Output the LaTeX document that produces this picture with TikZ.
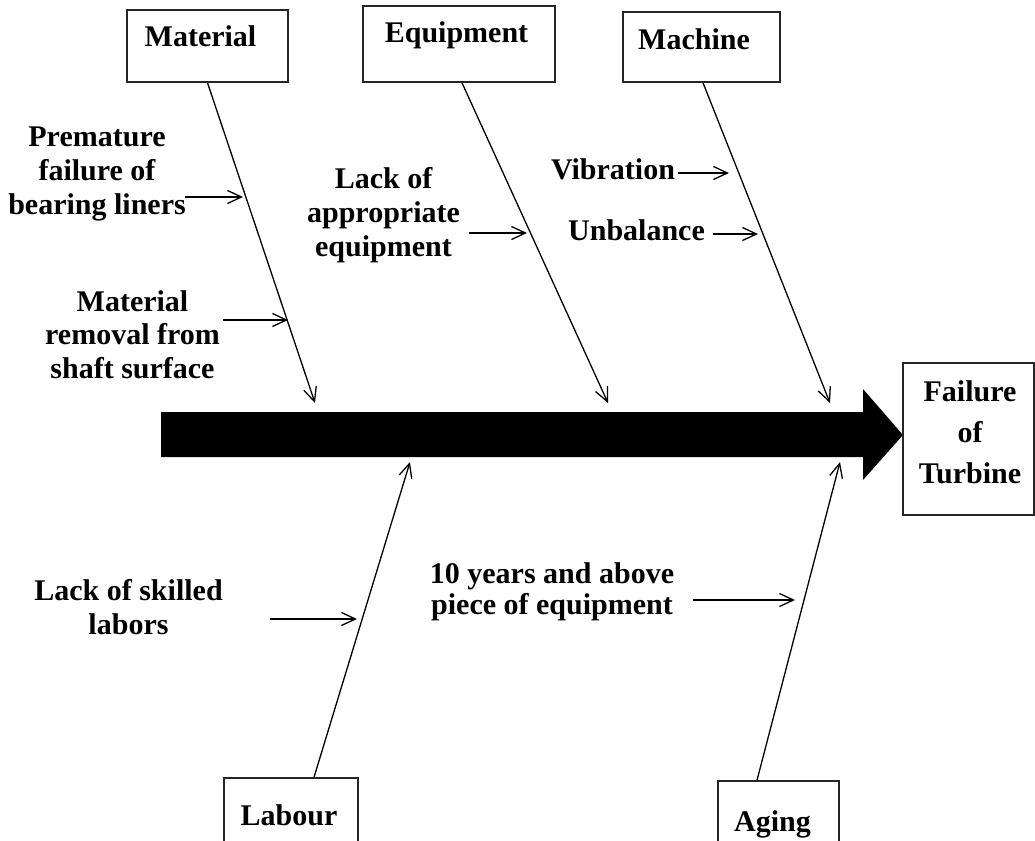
\documentclass[tikz,border=0pt]{standalone}
\usepackage{fontspec}
\setmainfont{Liberation Serif}
\usetikzlibrary{arrows.meta}
\begin{document}
\begin{tikzpicture}[x=1pt,y=-1pt,
  txt/.style={font=\fontsize{30}{34}\selectfont\bfseries, inner sep=0pt, align=center},
  boxnode/.style={draw=black!85, line width=1.6pt, inner sep=0pt, fill=white},
  bone/.style={line width=1.3pt, -{Straight Barb[length=14pt,width=13pt]}},
  ]
\useasboundingbox (0,0) rectangle (1035,840);
\clip (0,0) rectangle (1035,840);

% spine
\fill[black] (161,412) -- (863,412) -- (863,389) -- (903,435) -- (863,480) -- (863,457) -- (161,457) -- cycle;

% category boxes
\node[boxnode, minimum width=161pt, minimum height=72pt] (mat) at (207.5,46) {};
\node[boxnode, minimum width=192pt, minimum height=76pt] (eqp) at (459,44) {};
\node[boxnode, minimum width=157pt, minimum height=70pt] (mac) at (701.5,47) {};
\node[boxnode, minimum width=134pt, minimum height=80pt] (lab) at (291,818) {};
\node[boxnode, minimum width=121pt, minimum height=80pt] (age) at (778.5,821) {};
\node[boxnode, minimum width=131pt, minimum height=152pt] (fail) at (968.5,439) {};

\node[txt, anchor=base] (matT) at (200.5,47) {Material};
\node[txt, anchor=base] (eqpT) at (456.5,43) {Equipment};
\node[txt, anchor=base] (macT) at (694,50) {Machine};
\node[txt, anchor=base] (labT) at (289,825) {Labour};
\node[txt, anchor=base] (ageT) at (772.5,831) {Aging};
\node[txt, anchor=north, font=\fontsize{30}{41}\selectfont\bfseries] (failT) at (970,380) {Failure\\of\\Turbine};

% branch ends on the spine
\coordinate (matE) at (315,403);
\coordinate (eqpE) at (608,403);
\coordinate (macE) at (830,403);
\coordinate (labE) at (410,462);
\coordinate (ageE) at (840,462);

\draw[bone] (mat.south) -- (matE);
\draw[bone] ([xshift=3pt]eqp.south) -- (eqpE);
\draw[bone] ([xshift=1.5pt]mac.south) -- (macE);
\draw[bone] ([xshift=23pt]lab.north) -- (labE);
\draw[bone] ([xshift=-21.5pt]age.north) -- (ageE);

% causes
\node[txt, anchor=north] (c1) at (97,127) {Premature\\failure of\\bearing liners};
\node[txt, anchor=north, font=\fontsize{30}{33.5}\selectfont\bfseries] (c2) at (132.5,290) {Material\\removal from\\shaft surface};
\node[txt, anchor=north] (c3) at (383.5,167) {Lack of\\appropriate\\equipment};
\node[txt, anchor=base] (c4) at (613,179) {Vibration};
\node[txt, anchor=base] (c5) at (636.5,240) {Unbalance};
\node[txt, anchor=north] (c6) at (128.5,579) {Lack of skilled\\labors};
\node[txt, anchor=north, font=\fontsize{30}{31}\selectfont\bfseries] (c7) at (552,562) {10 years and above\\piece of equipment};

\coordinate (a1s) at (185,197); \coordinate (a1e) at (243,197);
\coordinate (a2s) at (223,320); \coordinate (a2e) at (288,320);
\coordinate (a3s) at (469,233); \coordinate (a3e) at (527,233);
\coordinate (a4s) at (678,173); \coordinate (a4e) at (729,173);
\coordinate (a5s) at (713,234); \coordinate (a5e) at (758,234);
\coordinate (a6s) at (270,619); \coordinate (a6e) at (357,619);
\coordinate (a7s) at (693,600); \coordinate (a7e) at (795,600);

\draw[bone] (a1s) -- (a1e);
\draw[bone] (a2s) -- (a2e);
\draw[bone] (a3s) -- (a3e);
\draw[bone] (a4s) -- (a4e);
\draw[bone] (a5s) -- (a5e);
\draw[bone] (a6s) -- (a6e);
\draw[bone] (a7s) -- (a7e);
\end{tikzpicture}
\end{document}
